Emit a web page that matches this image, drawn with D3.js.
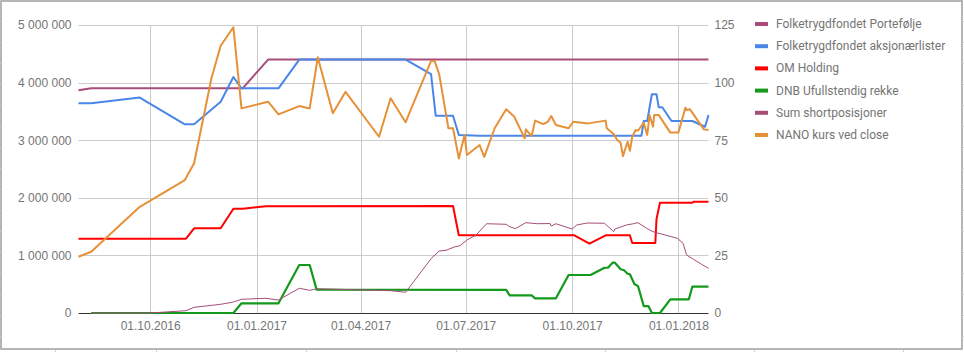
<!DOCTYPE html>
<html>
<head>
<meta charset="utf-8">
<script src="https://cdn.jsdelivr.net/npm/d3@7"></script>
<style>
  body { margin: 0; background: #fff; }
  svg { display: block; font-family: Roboto, "Noto Sans", sans-serif; }
  .tick-text { fill: #757575; font-size: 12px; }
  .legend-text { fill: #757575; font-size: 12px; }
</style>
</head>
<body>
<div id="chart"></div>
<script>
// series names (legend order)
const seriesNames = [
  "Folketrygdfondet Portefølje",
  "Folketrygdfondet aksjonærlister",
  "OM Holding",
  "DNB Ufullstendig rekke",
  "Sum shortposisjoner",
  "NANO kurs ved close"
];

const portefolje = [
  ["2016-07-31", 3866000], ["2016-08-11", 3900000], ["2016-12-20", 3900000],
  ["2017-01-11", 4400000], ["2018-01-27", 4400000]
];

const aksjonaerlister = [
  ["2016-07-31", 3640000], ["2016-08-11", 3640000], ["2016-09-22", 3740000],
  ["2016-10-31", 3276000], ["2016-11-08", 3276000], ["2016-12-01", 3668000],
  ["2016-12-12", 4097000], ["2016-12-19", 3900000], ["2017-01-20", 3900000],
  ["2017-02-07", 4400000], ["2017-05-10", 4400000], ["2017-06-01", 4149000],
  ["2017-06-05", 3425000], ["2017-06-20", 3425000], ["2017-06-25", 3090000],
  ["2017-07-13", 3078000], ["2017-11-30", 3078000], ["2017-12-02", 3333000],
  ["2017-12-05", 3333000], ["2017-12-09", 3797000], ["2017-12-13", 3797000],
  ["2017-12-15", 3571000], ["2017-12-18", 3571000], ["2017-12-26", 3333000],
  ["2018-01-13", 3333000], ["2018-01-24", 3234000], ["2018-01-27", 3437000]
];

const omHolding = [
  ["2016-07-31", 1290000], ["2016-11-01", 1290000], ["2016-11-08", 1470000],
  ["2016-12-01", 1470000], ["2016-12-12", 1810000], ["2016-12-20", 1810000],
  ["2017-01-09", 1852000], ["2017-06-20", 1858000], ["2017-06-25", 1349000],
  ["2017-10-03", 1349000], ["2017-10-16", 1203000], ["2017-10-30", 1349000],
  ["2017-11-20", 1349000], ["2017-11-22", 1215000], ["2017-12-12", 1215000],
  ["2017-12-13", 1627000], ["2017-12-16", 1915000], ["2018-01-13", 1915000],
  ["2018-01-14", 1932000], ["2018-01-27", 1932000]
];

const dnb = [
  ["2016-08-11", 0], ["2016-12-12", 0], ["2016-12-19", 168000],
  ["2017-01-20", 168000], ["2017-02-07", 833000], ["2017-02-16", 833000],
  ["2017-02-22", 405000], ["2017-08-05", 400000], ["2017-08-08", 307000],
  ["2017-08-27", 307000], ["2017-08-30", 255000], ["2017-09-17", 255000],
  ["2017-09-28", 660000], ["2017-10-17", 660000], ["2017-10-29", 786000],
  ["2017-11-01", 786000], ["2017-11-05", 873000], ["2017-11-07", 873000],
  ["2017-11-12", 759000], ["2017-11-15", 741000], ["2017-11-18", 682000],
  ["2017-11-20", 672000], ["2017-11-24", 498000], ["2017-11-27", 469000],
  ["2017-12-02", 120000], ["2017-12-06", 120000], ["2017-12-09", 0],
  ["2017-12-16", 0], ["2017-12-25", 238000], ["2018-01-10", 238000],
  ["2018-01-13", 457000], ["2018-01-27", 457000]
];

const sumShort = [
  ["2016-08-11", 0], ["2016-10-01", 0], ["2016-11-01", 40000],
  ["2016-11-08", 99000], ["2016-12-01", 151000], ["2016-12-12", 190000],
  ["2016-12-19", 238000], ["2017-01-09", 255000], ["2017-01-20", 226000],
  ["2017-02-07", 429000], ["2017-02-16", 394000], ["2017-02-23", 422000],
  ["2017-04-27", 387000], ["2017-05-10", 360000], ["2017-06-01", 943000],
  ["2017-06-08", 1076000], ["2017-06-14", 1089000], ["2017-06-21", 1146000],
  ["2017-06-26", 1168000], ["2017-07-02", 1267000], ["2017-07-10", 1354000],
  ["2017-07-19", 1550000], ["2017-08-05", 1540000], ["2017-08-08", 1498000],
  ["2017-08-13", 1464000], ["2017-08-22", 1568000], ["2017-09-01", 1550000],
  ["2017-09-12", 1553000], ["2017-09-13", 1510000], ["2017-09-17", 1550000],
  ["2017-10-01", 1458000], ["2017-10-05", 1528000], ["2017-10-14", 1562000],
  ["2017-10-29", 1558000], ["2017-11-06", 1411000], ["2017-11-07", 1458000],
  ["2017-11-17", 1528000], ["2017-11-23", 1550000], ["2017-11-27", 1568000],
  ["2017-12-05", 1464000], ["2017-12-10", 1411000], ["2017-12-31", 1297000],
  ["2018-01-05", 1210000], ["2018-01-08", 1007000], ["2018-01-14", 932000],
  ["2018-01-21", 845000], ["2018-01-27", 776000]
];

// NANO close price (right axis)
const nanoKurs = [
  ["2016-07-31", 24.4], ["2016-08-11", 26.6], ["2016-09-22", 46.1],
  ["2016-10-31", 57.7], ["2016-11-08", 65.0], ["2016-11-23", 101.9],
  ["2016-12-01", 116.0], ["2016-12-12", 124.0], ["2016-12-19", 88.8],
  ["2017-01-11", 91.7], ["2017-01-20", 86.2], ["2017-02-07", 89.8],
  ["2017-02-16", 88.8], ["2017-02-23", 111.0], ["2017-03-08", 86.7],
  ["2017-03-19", 96.0], ["2017-04-17", 76.5], ["2017-04-27", 93.2],
  ["2017-05-10", 82.8], ["2017-06-01", 109.4], ["2017-06-04", 109.4],
  ["2017-06-08", 103.7], ["2017-06-16", 80.2], ["2017-06-20", 80.2],
  ["2017-06-25", 67.1], ["2017-06-30", 77.3], ["2017-07-02", 68.6],
  ["2017-07-13", 72.9], ["2017-07-17", 67.8], ["2017-07-26", 80.2],
  ["2017-08-05", 88.4], ["2017-08-12", 85.2], ["2017-08-21", 75.8],
  ["2017-08-22", 79.7], ["2017-08-27", 76.8], ["2017-08-30", 83.5],
  ["2017-09-06", 82.0], ["2017-09-10", 83.0], ["2017-09-13", 85.5],
  ["2017-09-17", 81.6], ["2017-09-28", 80.2], ["2017-10-02", 83.0],
  ["2017-10-15", 82.3], ["2017-10-30", 83.5], ["2017-10-31", 80.2],
  ["2017-11-06", 77.7], ["2017-11-09", 75.1], ["2017-11-12", 73.9],
  ["2017-11-14", 68.1], ["2017-11-18", 74.3], ["2017-11-20", 70.4],
  ["2017-11-22", 76.5], ["2017-11-25", 79.4], ["2017-11-27", 79.1],
  ["2017-12-02", 82.6], ["2017-12-05", 77.3], ["2017-12-07", 85.9],
  ["2017-12-10", 80.9], ["2017-12-11", 85.9], ["2017-12-15", 85.9],
  ["2017-12-25", 78.3], ["2018-01-01", 78.3], ["2018-01-07", 89.1],
  ["2018-01-08", 88.1], ["2018-01-11", 88.4], ["2018-01-23", 79.7],
  ["2018-01-27", 79.4]
];

const xTicks = ["2016-10-01", "2017-01-01", "2017-04-01", "2017-07-01", "2017-10-01", "2018-01-01"];
const leftTicks = [0, 1000000, 2000000, 3000000, 4000000, 5000000];
const rightTicks = [0, 25, 50, 75, 100, 125];

const colors = ["#a64d79", "#4a86e8", "#ff0000", "#139a1c", "#a64d79", "#e69138"];
const widths = [2, 2, 2, 2.2, 1, 2];

const W = 964, H = 352;
const plot = { left: 78.5, right: 708.5, top: 25, bottom: 313 };
const parse = d3.timeParse("%Y-%m-%d");

const svg = d3.select("#chart").append("svg")
  .attr("width", W)
  .attr("height", H);

// outer frame (sheet cell border look)
svg.append("rect")
  .attr("x", 1).attr("y", 1)
  .attr("width", 961).attr("height", 348)
  .attr("fill", "none")
  .attr("stroke", "#9e9e9e")
  .attr("stroke-width", 1.5);

// little cell-grid marks around the frame
const sideMarks = d3.range(21.5, 345, 21);
svg.selectAll(".lmark").data(sideMarks).enter().append("line")
  .attr("x1", 0).attr("x2", 1).attr("y1", d => d).attr("y2", d => d)
  .attr("stroke", "#d0d0d0");
svg.selectAll(".rmark").data(sideMarks).enter().append("line")
  .attr("x1", 962).attr("x2", 964).attr("y1", d => d).attr("y2", d => d)
  .attr("stroke", "#d0d0d0");
svg.selectAll(".bmark").data([55, 156, 306, 456, 605, 754, 903]).enter().append("line")
  .attr("x1", d => d + 0.5).attr("x2", d => d + 0.5).attr("y1", 350).attr("y2", 352)
  .attr("stroke", "#d0d0d0");

const x = d3.scaleTime()
  .domain([parse("2016-07-31"), parse("2018-01-27")])
  .range([plot.left, plot.right]);

const yLeft = d3.scaleLinear()
  .domain([0, 5000000])
  .range([plot.bottom, plot.top]);

const yRight = d3.scaleLinear()
  .domain([0, 125])
  .range([plot.bottom, plot.top]);

// Grid lines
svg.append("g")
  .selectAll("line")
  .data(leftTicks.filter(d => d > 0))
  .enter().append("line")
  .attr("x1", plot.left).attr("x2", plot.right)
  .attr("y1", d => Math.round(yLeft(d)) + 0.5)
  .attr("y2", d => Math.round(yLeft(d)) + 0.5)
  .attr("stroke", "#cccccc");

svg.append("g")
  .selectAll("line")
  .data(xTicks.map(parse))
  .enter().append("line")
  .attr("x1", d => Math.round(x(d)) + 0.5)
  .attr("x2", d => Math.round(x(d)) + 0.5)
  .attr("y1", plot.top).attr("y2", plot.bottom)
  .attr("stroke", "#cccccc");

// Axes
const fmtLeft = d => d3.format(",")(d).replace(/,/g, " ");

const gLeft = svg.append("g")
  .attr("transform", `translate(${plot.left},0)`)
  .call(d3.axisLeft(yLeft).tickValues(leftTicks).tickFormat(fmtLeft).tickSize(0).tickPadding(7));
gLeft.select(".domain").remove();
gLeft.selectAll("text").attr("class", "tick-text").attr("font-family", null).attr("font-size", null);

const gRight = svg.append("g")
  .attr("transform", `translate(${plot.right},0)`)
  .call(d3.axisRight(yRight).tickValues(rightTicks).tickSize(0).tickPadding(6));
gRight.select(".domain").remove();
gRight.selectAll("text").attr("class", "tick-text").attr("font-family", null).attr("font-size", null);

const gBottom = svg.append("g")
  .attr("transform", `translate(0,${plot.bottom})`)
  .call(d3.axisBottom(x).tickValues(xTicks.map(parse)).tickFormat(d3.timeFormat("%d.%m.%Y")).tickSize(0).tickPadding(8));
gBottom.select(".domain").remove();
gBottom.selectAll("text").attr("class", "tick-text").attr("font-family", null).attr("font-size", null);

// Baseline
svg.append("line")
  .attr("x1", plot.left).attr("x2", plot.right)
  .attr("y1", plot.bottom + 0.5).attr("y2", plot.bottom + 0.5)
  .attr("stroke", "#333333");

// Lines
const allSeries = [portefolje, aksjonaerlister, omHolding, dnb, sumShort, nanoKurs];

allSeries.forEach((values, i) => {
  const yScale = i === 5 ? yRight : yLeft;
  const line = d3.line()
    .x(d => x(parse(d[0])))
    .y(d => yScale(d[1]));

  svg.append("path")
    .datum(values)
    .attr("fill", "none")
    .attr("stroke", colors[i])
    .attr("stroke-width", widths[i])
    .attr("stroke-linejoin", "round")
    .attr("d", line);
});

// Legend
const legend = svg.selectAll(".legend")
  .data(seriesNames)
  .enter().append("g")
  .attr("class", "legend")
  .attr("transform", (d, i) => `translate(755, ${24 + i * 22.2})`);

legend.append("rect")
  .attr("x", 0)
  .attr("y", -2)
  .attr("width", 13)
  .attr("height", 4)
  .attr("fill", (d, i) => colors[i]);

legend.append("text")
  .attr("x", 21)
  .attr("y", 4)
  .attr("class", "legend-text")
  .text(d => d);
</script>
</body>
</html>
